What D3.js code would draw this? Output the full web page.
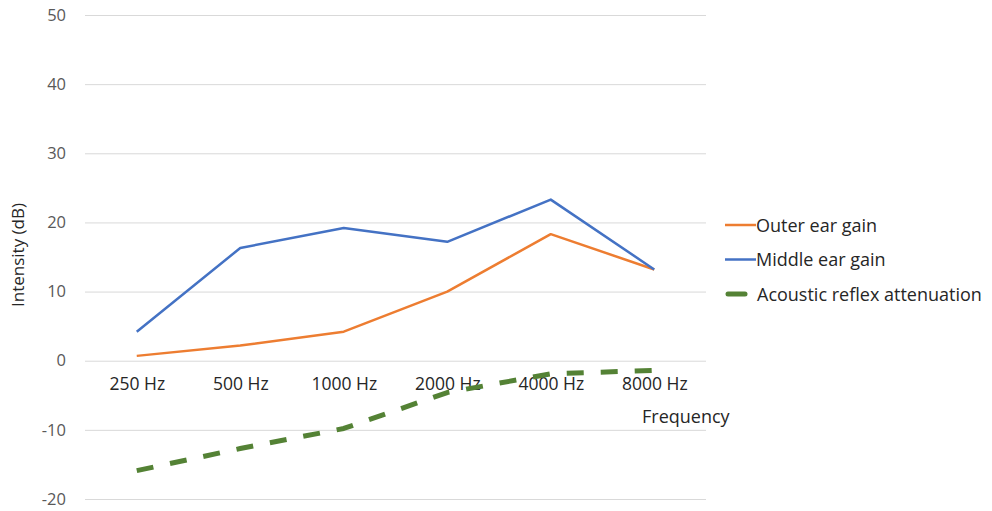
<!DOCTYPE html>
<html>
<head>
<meta charset="utf-8">
<script src="https://cdn.jsdelivr.net/npm/d3@7"></script>
<style>
  html, body { margin: 0; padding: 0; background: #fff; }
  svg { display: block; font-family: "Open Sans", Lato, sans-serif; }
</style>
</head>
<body>
<svg id="chart" width="992" height="511"></svg>
<script>
// Frequencies along the x axis
const frequencies = ["250 Hz", "500 Hz", "1000 Hz", "2000 Hz", "4000 Hz", "8000 Hz"];
// Gain / attenuation in dB per frequency
const outerEarGain = [0.7, 2.2, 4.2, 10.0, 18.3, 13.2];
const middleEarGain = [4.2, 16.3, 19.2, 17.2, 23.3, 13.2];
const reflexAttenuation = [-15.9, -12.7, -9.8, -4.6, -1.9, -1.4];
const yTicks = [-20, -10, 0, 10, 20, 30, 40, 50];

const series = [
  { name: "Outer ear gain", values: outerEarGain, color: "#ed7d31", width: 2.5, dash: null },
  { name: "Middle ear gain", values: middleEarGain, color: "#4472c4", width: 2.5, dash: null },
  { name: "Acoustic reflex attenuation", values: reflexAttenuation, color: "#548235", width: 5, dash: "17,17" }
];

const svg = d3.select("#chart");
const plotLeft = 85, plotRight = 706, plotTop = 15, plotBottom = 499;
const font = "'Open Sans', Lato, sans-serif";

const x = d3.scalePoint().domain(frequencies).range([plotLeft, plotRight]).padding(0.5);
const y = d3.scaleLinear().domain([-20, 50]).range([plotBottom, plotTop]);

// Horizontal gridlines
svg.append("g").selectAll("line").data(yTicks).join("line")
  .attr("x1", plotLeft).attr("x2", plotRight)
  .attr("y1", d => y(d) + 0.5).attr("y2", d => y(d) + 0.5)
  .attr("stroke", "#d9d9d9").attr("stroke-width", 1);

// Value axis labels (plain hyphen for negatives)
const yAxis = svg.append("g").attr("transform", `translate(${plotLeft - 19},0)`)
  .call(d3.axisLeft(y).tickValues(yTicks).tickSize(0).tickPadding(0).tickFormat(d => String(d)));
yAxis.select(".domain").remove();
yAxis.selectAll("text").attr("fill", "#595959").attr("font-size", 16.5)
  .attr("font-family", font);

// Category labels placed along the zero line
const xAxis = svg.append("g").attr("transform", `translate(0,${y(0)})`)
  .call(d3.axisBottom(x).tickSize(0).tickPadding(17));
xAxis.select(".domain").remove();
xAxis.selectAll("text").attr("fill", "#262626").attr("font-size", 17.5)
  .attr("font-family", font);

// Axis titles
svg.append("text")
  .attr("transform", "translate(24,255) rotate(-90)")
  .attr("text-anchor", "middle").attr("fill", "#262626").attr("font-size", 17)
  .text("Intensity (dB)");
svg.append("text")
  .attr("x", 642).attr("y", 423).attr("fill", "#262626").attr("font-size", 18)
  .text("Frequency");

// Series lines
const line = d3.line().x((d, i) => x(frequencies[i])).y(d => y(d));
svg.append("g").selectAll("path").data(series).join("path")
  .attr("d", s => line(s.values))
  .attr("fill", "none")
  .attr("stroke", s => s.color)
  .attr("stroke-width", s => s.width)
  .attr("stroke-dasharray", s => s.dash)
  .attr("stroke-linejoin", "round");

// Legend
const legend = svg.append("g").attr("transform", "translate(725,225)");
const item = legend.selectAll("g").data(series).join("g")
  .attr("transform", (d, i) => `translate(0,${i * 34.5})`);
item.append("line")
  .attr("x1", s => s.dash ? 3 : 0).attr("x2", s => s.dash ? 20 : 31)
  .attr("y1", 0).attr("y2", 0)
  .attr("stroke", s => s.color)
  .attr("stroke-width", s => s.dash ? 5 : 2.5)
  .attr("stroke-linecap", s => s.dash ? "round" : "butt");
item.append("text")
  .attr("x", s => s.dash ? 32 : 31).attr("y", 6.5).attr("fill", "#262626").attr("font-size", 18)
  .attr("font-family", font)
  .text(s => s.name);
</script>
</body>
</html>
